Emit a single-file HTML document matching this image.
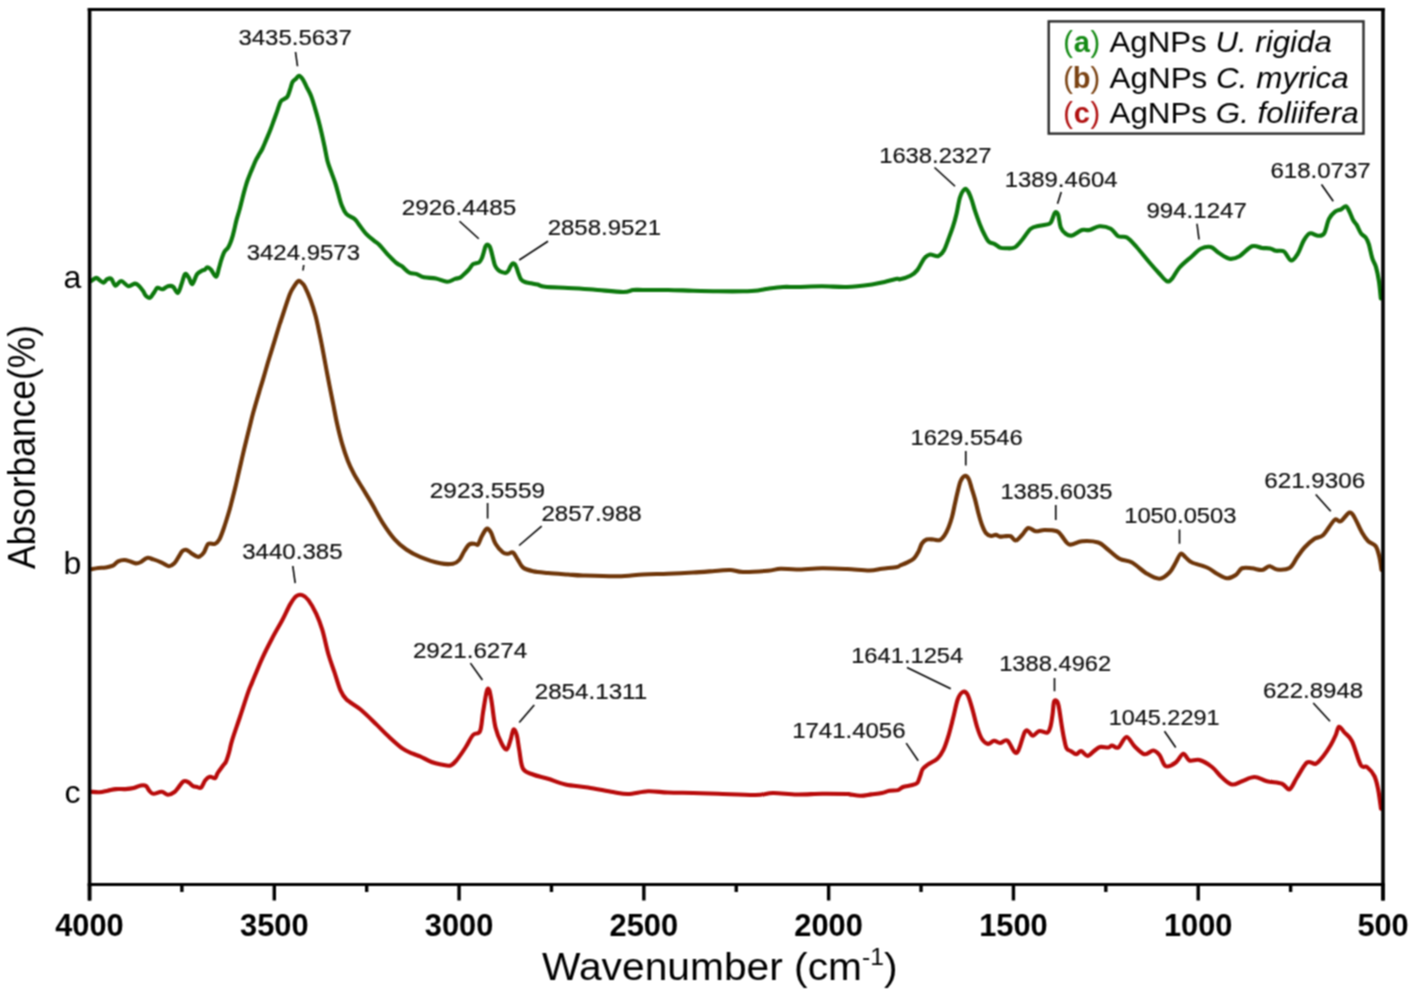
<!DOCTYPE html><html><head><meta charset="utf-8"><style>html,body{margin:0;padding:0;background:#fff;}svg{display:block;}text{font-family:"Liberation Sans",Arial,sans-serif;}</style></head><body>
<svg width="1416" height="996" viewBox="0 0 1416 996">
<defs><filter id="soft" filterUnits="userSpaceOnUse" x="0" y="0" width="1416" height="996" color-interpolation-filters="sRGB"><feConvolveMatrix order="3" kernelMatrix="1 2 1 2 4 2 1 2 1" edgeMode="duplicate"/></filter></defs>
<g filter="url(#soft)">
<rect width="1416" height="996" fill="#fff"/>
<g fill="none" stroke-width="4.1" stroke-linejoin="round" stroke-linecap="round">
<path stroke="#0c780c" d="M91.10,281.00 C91.97,280.48 94.92,278.07 96.30,277.90 C97.68,277.73 98.20,279.22 99.40,280.00 C100.60,280.78 102.20,282.73 103.50,282.60 C104.80,282.47 105.90,279.82 107.20,279.20 C108.50,278.58 109.92,277.82 111.30,278.90 C112.68,279.98 113.85,285.35 115.50,285.70 C117.15,286.05 119.05,280.92 121.20,281.00 C123.35,281.08 126.15,285.77 128.40,286.20 C130.65,286.63 132.97,283.68 134.70,283.60 C136.43,283.52 137.42,284.48 138.80,285.70 C140.18,286.92 141.78,289.17 143.00,290.90 C144.22,292.63 144.90,294.98 146.10,296.10 C147.30,297.22 148.82,298.30 150.20,297.60 C151.58,296.90 153.18,293.53 154.40,291.90 C155.62,290.27 156.12,288.23 157.50,287.80 C158.88,287.37 160.97,289.57 162.70,289.30 C164.43,289.03 166.17,286.63 167.90,286.20 C169.63,285.77 171.45,285.58 173.10,286.70 C174.75,287.82 176.42,293.25 177.80,292.90 C179.18,292.55 180.20,287.70 181.40,284.60 C182.60,281.50 183.78,275.50 185.00,274.30 C186.22,273.10 187.48,275.77 188.70,277.40 C189.92,279.03 190.92,284.62 192.30,284.10 C193.68,283.58 195.35,276.55 197.00,274.30 C198.65,272.05 200.87,271.38 202.20,270.60 C203.53,269.82 204.13,270.17 205.00,269.60 C205.87,269.03 206.40,267.20 207.40,267.20 C208.40,267.20 209.55,268.00 211.00,269.60 C212.45,271.20 214.78,277.00 216.10,276.80 C217.42,276.60 218.03,271.22 218.90,268.40 C219.77,265.58 220.40,262.62 221.30,259.90 C222.20,257.18 223.20,254.10 224.30,252.10 C225.40,250.10 226.90,249.40 227.90,247.90 C228.90,246.40 229.50,245.12 230.30,243.10 C231.10,241.08 232.03,238.07 232.70,235.80 C233.37,233.53 233.65,232.20 234.30,229.50 C234.95,226.80 235.68,223.07 236.60,219.60 C237.52,216.13 238.82,212.32 239.80,208.70 C240.78,205.08 241.60,201.37 242.50,197.90 C243.40,194.43 244.38,190.77 245.20,187.90 C246.02,185.03 246.50,183.27 247.40,180.70 C248.30,178.13 249.68,174.77 250.60,172.50 C251.52,170.23 252.00,169.20 252.90,167.10 C253.80,165.00 254.88,162.15 256.00,159.90 C257.12,157.65 258.52,155.50 259.60,153.60 C260.68,151.70 261.42,150.75 262.50,148.50 C263.58,146.25 264.78,143.22 266.10,140.10 C267.42,136.98 269.12,133.07 270.40,129.80 C271.68,126.53 272.67,123.62 273.80,120.50 C274.93,117.38 276.07,114.23 277.20,111.10 C278.33,107.97 279.47,103.70 280.60,101.70 C281.73,99.70 282.87,99.95 284.00,99.10 C285.13,98.25 286.40,98.17 287.40,96.60 C288.40,95.03 289.15,92.12 290.00,89.70 C290.85,87.28 291.50,83.93 292.50,82.10 C293.50,80.27 294.93,79.77 296.00,78.70 C297.07,77.63 297.77,75.60 298.90,75.70 C300.03,75.80 301.50,77.40 302.80,79.30 C304.10,81.20 305.28,84.25 306.70,87.10 C308.12,89.95 309.88,92.77 311.30,96.40 C312.72,100.03 314.03,105.00 315.20,108.90 C316.37,112.80 317.27,115.92 318.30,119.80 C319.33,123.68 320.37,127.80 321.40,132.20 C322.43,136.60 323.45,141.27 324.50,146.20 C325.55,151.13 326.53,157.40 327.70,161.80 C328.87,166.20 330.22,168.98 331.50,172.60 C332.78,176.22 334.23,179.87 335.40,183.50 C336.57,187.13 337.45,190.77 338.50,194.40 C339.55,198.03 340.40,202.05 341.70,205.30 C343.00,208.55 344.08,211.57 346.30,213.90 C348.52,216.23 352.93,217.58 355.00,219.30 C357.07,221.02 356.80,221.72 358.70,224.20 C360.60,226.68 363.82,231.43 366.40,234.20 C368.98,236.97 371.98,238.97 374.20,240.80 C376.42,242.63 377.50,242.98 379.70,245.20 C381.90,247.42 384.63,251.15 387.40,254.10 C390.17,257.05 393.90,260.88 396.30,262.90 C398.70,264.92 399.60,264.55 401.80,266.20 C404.00,267.85 407.12,271.52 409.50,272.80 C411.88,274.08 413.70,273.15 416.10,273.90 C418.50,274.65 420.58,276.55 423.90,277.30 C427.22,278.05 432.13,277.67 436.00,278.40 C439.87,279.13 443.93,281.62 447.10,281.70 C450.27,281.78 452.83,279.58 455.00,278.90 C457.17,278.22 458.52,278.45 460.10,277.60 C461.68,276.75 463.02,275.18 464.50,273.80 C465.98,272.42 467.62,270.90 469.00,269.30 C470.38,267.70 471.63,265.20 472.80,264.20 C473.97,263.20 474.93,263.62 476.00,263.30 C477.07,262.98 478.25,263.10 479.20,262.30 C480.15,261.50 480.97,260.08 481.70,258.50 C482.43,256.92 482.97,254.82 483.60,252.80 C484.23,250.78 484.87,247.78 485.50,246.40 C486.13,245.02 486.72,244.50 487.40,244.50 C488.08,244.50 488.97,245.33 489.60,246.40 C490.23,247.47 490.62,248.88 491.20,250.90 C491.78,252.92 492.47,256.07 493.10,258.50 C493.73,260.93 494.15,263.58 495.00,265.50 C495.85,267.42 497.03,268.88 498.20,270.00 C499.37,271.12 500.72,271.73 502.00,272.20 C503.28,272.67 504.83,273.07 505.90,272.80 C506.97,272.53 507.67,271.60 508.40,270.60 C509.13,269.60 509.62,267.97 510.30,266.80 C510.98,265.63 511.75,264.03 512.50,263.60 C513.25,263.17 514.10,263.45 514.80,264.20 C515.50,264.95 516.07,266.50 516.70,268.10 C517.33,269.70 517.87,271.90 518.60,273.80 C519.33,275.70 520.05,278.13 521.10,279.50 C522.15,280.87 523.20,281.37 524.90,282.00 C526.60,282.63 529.18,282.87 531.30,283.30 C533.42,283.73 535.32,284.02 537.60,284.60 C539.88,285.18 539.93,286.23 545.00,286.80 C550.07,287.37 560.00,287.55 568.00,288.00 C576.00,288.45 583.83,288.83 593.00,289.50 C602.17,290.17 616.33,291.92 623.00,292.00 C629.67,292.08 629.67,290.33 633.00,290.00 C636.33,289.67 637.17,290.00 643.00,290.00 C648.83,290.00 659.67,289.88 668.00,290.00 C676.33,290.12 684.67,290.54 693.00,290.75 C701.33,290.96 709.67,291.17 718.00,291.25 C726.33,291.33 736.33,291.38 743.00,291.25 C749.67,291.12 753.83,290.92 758.00,290.50 C762.17,290.08 763.83,289.33 768.00,288.75 C772.17,288.17 778.17,287.29 783.00,287.00 C787.83,286.71 790.50,287.12 797.00,287.00 C803.50,286.88 813.67,286.25 822.00,286.25 C830.33,286.25 838.67,287.29 847.00,287.00 C855.33,286.71 865.75,285.33 872.00,284.50 C878.25,283.67 880.33,282.96 884.50,282.00 C888.67,281.04 894.42,279.20 897.00,278.75 C899.58,278.30 897.77,279.79 900.00,279.30 C902.23,278.81 907.52,277.33 910.40,275.80 C913.28,274.27 915.00,272.98 917.30,270.10 C919.60,267.22 922.08,261.10 924.20,258.50 C926.32,255.90 927.68,254.88 930.00,254.50 C932.32,254.12 935.78,256.88 938.10,256.20 C940.42,255.52 942.17,253.28 943.90,250.40 C945.63,247.52 946.97,242.93 948.50,238.90 C950.03,234.87 951.75,230.43 953.10,226.20 C954.45,221.97 955.45,218.32 956.60,213.50 C957.75,208.68 958.65,201.35 960.00,197.30 C961.35,193.25 963.35,190.17 964.70,189.20 C966.05,188.23 966.95,189.77 968.10,191.50 C969.25,193.23 970.43,196.32 971.60,199.60 C972.77,202.88 973.75,207.15 975.10,211.20 C976.45,215.25 978.17,220.05 979.70,223.90 C981.23,227.75 982.77,231.32 984.30,234.30 C985.83,237.28 987.17,240.17 988.90,241.80 C990.63,243.43 992.85,243.13 994.70,244.10 C996.55,245.07 998.16,246.91 1000.00,247.60 C1001.84,248.29 1003.33,248.27 1005.75,248.25 C1008.17,248.23 1011.79,248.88 1014.50,247.50 C1017.21,246.12 1019.29,243.12 1022.00,240.00 C1024.71,236.88 1027.83,231.12 1030.75,228.75 C1033.67,226.38 1036.38,226.58 1039.50,225.75 C1042.62,224.92 1047.42,224.71 1049.50,223.75 C1051.58,222.79 1051.08,221.88 1052.00,220.00 C1052.92,218.12 1053.96,213.33 1055.00,212.50 C1056.04,211.67 1057.29,212.50 1058.25,215.00 C1059.21,217.50 1059.50,224.38 1060.75,227.50 C1062.00,230.62 1063.88,232.42 1065.75,233.75 C1067.62,235.08 1069.29,236.12 1072.00,235.50 C1074.71,234.88 1079.08,230.92 1082.00,230.00 C1084.92,229.08 1086.58,230.62 1089.50,230.00 C1092.42,229.38 1095.96,226.46 1099.50,226.25 C1103.04,226.04 1107.62,227.08 1110.75,228.75 C1113.88,230.42 1115.54,234.79 1118.25,236.25 C1120.96,237.71 1123.88,235.62 1127.00,237.50 C1130.12,239.38 1133.25,243.33 1137.00,247.50 C1140.75,251.67 1145.75,258.12 1149.50,262.50 C1153.25,266.88 1156.58,270.62 1159.50,273.75 C1162.42,276.88 1164.92,280.42 1167.00,281.25 C1169.08,282.08 1169.92,281.04 1172.00,278.75 C1174.08,276.46 1176.17,271.25 1179.50,267.50 C1182.83,263.75 1188.46,259.38 1192.00,256.25 C1195.54,253.12 1197.62,250.29 1200.75,248.75 C1203.88,247.21 1207.83,246.38 1210.75,247.00 C1213.67,247.62 1215.12,250.54 1218.25,252.50 C1221.38,254.46 1225.96,258.12 1229.50,258.75 C1233.04,259.38 1235.75,258.33 1239.50,256.25 C1243.25,254.17 1248.25,247.62 1252.00,246.25 C1255.75,244.88 1259.00,247.64 1262.00,248.00 C1265.00,248.36 1267.67,247.93 1270.00,248.40 C1272.33,248.87 1273.68,250.30 1276.00,250.80 C1278.32,251.30 1281.38,249.78 1283.90,251.40 C1286.42,253.02 1288.80,260.08 1291.10,260.50 C1293.40,260.92 1295.60,257.22 1297.70,253.90 C1299.80,250.58 1301.68,244.02 1303.70,240.60 C1305.72,237.18 1307.38,234.20 1309.80,233.40 C1312.22,232.60 1315.80,235.80 1318.20,235.80 C1320.60,235.80 1322.40,236.22 1324.20,233.40 C1326.00,230.58 1327.18,222.52 1329.00,218.90 C1330.82,215.28 1333.08,213.30 1335.10,211.70 C1337.12,210.10 1339.30,210.20 1341.10,209.30 C1342.90,208.40 1344.50,205.90 1345.90,206.30 C1347.30,206.70 1348.30,209.40 1349.50,211.70 C1350.70,214.00 1351.90,217.90 1353.10,220.10 C1354.30,222.30 1355.38,222.68 1356.70,224.90 C1358.02,227.12 1359.48,231.28 1361.00,233.40 C1362.52,235.52 1364.50,235.80 1365.80,237.60 C1367.10,239.40 1367.70,240.68 1368.80,244.20 C1369.90,247.72 1371.20,254.88 1372.40,258.70 C1373.60,262.52 1374.90,263.28 1376.00,267.10 C1377.10,270.92 1378.20,276.38 1379.00,281.60 C1379.80,286.82 1380.50,295.60 1380.80,298.40"/>
<path stroke="#6e3508" d="M91.10,569.30 C92.30,569.08 95.88,568.30 98.30,568.00 C100.72,567.70 103.17,567.88 105.60,567.50 C108.03,567.12 110.82,566.73 112.90,565.70 C114.98,564.67 116.20,562.25 118.10,561.30 C120.00,560.35 122.23,559.97 124.30,560.00 C126.37,560.03 128.60,560.93 130.50,561.50 C132.40,562.07 133.97,563.32 135.70,563.40 C137.43,563.48 139.00,562.92 140.90,562.00 C142.80,561.08 145.02,558.33 147.10,557.90 C149.18,557.47 150.97,558.62 153.40,559.40 C155.83,560.18 159.12,561.47 161.70,562.60 C164.28,563.73 166.83,566.03 168.90,566.20 C170.97,566.37 172.53,565.07 174.10,563.60 C175.67,562.13 176.92,559.48 178.30,557.40 C179.68,555.32 181.02,552.35 182.40,551.10 C183.78,549.85 185.12,549.55 186.60,549.90 C188.08,550.25 189.67,552.13 191.30,553.20 C192.93,554.27 195.05,555.73 196.40,556.30 C197.75,556.87 198.17,557.20 199.40,556.60 C200.63,556.00 202.33,554.82 203.80,552.70 C205.27,550.58 206.35,545.37 208.20,543.90 C210.05,542.43 213.05,544.63 214.90,543.90 C216.75,543.17 217.83,542.07 219.30,539.50 C220.77,536.93 222.00,533.42 223.70,528.50 C225.40,523.58 228.12,514.68 229.50,510.00 C230.88,505.32 231.07,504.02 232.00,500.40 C232.93,496.78 234.08,492.48 235.10,488.30 C236.12,484.12 237.10,479.65 238.10,475.30 C239.10,470.95 240.10,466.55 241.10,462.20 C242.10,457.85 243.10,453.38 244.10,449.20 C245.10,445.02 246.10,441.12 247.10,437.10 C248.10,433.08 249.10,429.12 250.10,425.10 C251.10,421.08 251.60,418.47 253.10,413.00 C254.60,407.53 257.43,397.93 259.10,392.30 C260.77,386.67 261.77,383.72 263.10,379.20 C264.43,374.68 265.77,369.72 267.10,365.20 C268.43,360.68 269.77,356.45 271.10,352.10 C272.43,347.75 273.77,343.45 275.10,339.10 C276.43,334.75 278.10,329.18 279.10,326.00 C280.10,322.82 279.33,325.23 281.10,320.00 C282.87,314.77 287.55,300.18 289.70,294.60 C291.85,289.02 292.53,288.80 294.00,286.50 C295.47,284.20 297.17,281.38 298.50,280.80 C299.83,280.22 300.95,282.02 302.00,283.00 C303.05,283.98 303.35,283.80 304.80,286.70 C306.25,289.60 308.90,295.50 310.70,300.40 C312.50,305.30 314.13,310.55 315.60,316.10 C317.07,321.65 318.20,327.50 319.50,333.70 C320.80,339.90 322.27,347.42 323.40,353.30 C324.53,359.18 325.32,363.78 326.30,369.00 C327.28,374.22 328.15,378.73 329.30,384.60 C330.45,390.47 331.90,397.67 333.20,404.20 C334.50,410.73 335.63,417.27 337.10,423.80 C338.57,430.33 340.20,437.20 342.00,443.40 C343.80,449.60 345.90,455.90 347.90,461.00 C349.90,466.10 351.55,469.45 354.00,474.00 C356.45,478.55 359.70,483.48 362.60,488.30 C365.50,493.12 368.00,497.07 371.40,502.90 C374.80,508.73 379.12,517.23 383.00,523.30 C386.88,529.37 390.82,534.93 394.70,539.30 C398.58,543.67 402.08,546.58 406.30,549.50 C410.52,552.42 414.33,554.50 420.00,556.80 C425.67,559.10 434.80,562.14 440.30,563.30 C445.80,564.46 449.84,564.30 453.00,563.75 C456.16,563.20 457.38,562.08 459.25,560.00 C461.12,557.92 462.58,553.83 464.25,551.25 C465.92,548.67 467.58,545.75 469.25,544.50 C470.92,543.25 472.79,543.75 474.25,543.75 C475.71,543.75 476.75,545.75 478.00,544.50 C479.25,543.25 480.29,538.88 481.75,536.25 C483.21,533.62 485.21,529.38 486.75,528.75 C488.29,528.12 489.54,530.00 491.00,532.50 C492.46,535.00 493.50,540.42 495.50,543.75 C497.50,547.08 500.92,550.83 503.00,552.50 C505.08,554.17 506.33,553.75 508.00,553.75 C509.67,553.75 511.33,551.46 513.00,552.50 C514.67,553.54 516.33,557.50 518.00,560.00 C519.67,562.50 520.50,565.62 523.00,567.50 C525.50,569.38 528.83,570.33 533.00,571.25 C537.17,572.17 542.17,572.46 548.00,573.00 C553.83,573.54 562.17,574.08 568.00,574.50 C573.83,574.92 574.67,575.21 583.00,575.50 C591.33,575.79 608.00,576.42 618.00,576.25 C628.00,576.08 634.67,574.92 643.00,574.50 C651.33,574.08 659.67,574.08 668.00,573.75 C676.33,573.42 684.67,573.00 693.00,572.50 C701.33,572.00 711.75,571.17 718.00,570.75 C724.25,570.33 726.33,569.79 730.50,570.00 C734.67,570.21 736.75,571.88 743.00,572.00 C749.25,572.12 761.75,571.29 768.00,570.75 C774.25,570.21 775.67,568.96 780.50,568.75 C785.33,568.54 790.08,569.58 797.00,569.50 C803.92,569.42 813.67,568.33 822.00,568.25 C830.33,568.17 839.08,568.62 847.00,569.00 C854.92,569.38 863.67,570.54 869.50,570.50 C875.33,570.46 877.42,569.33 882.00,568.75 C886.58,568.17 894.00,567.54 897.00,567.00 C900.00,566.46 898.35,566.23 900.00,565.50 C901.65,564.77 904.58,563.77 906.90,562.60 C909.22,561.43 911.97,560.33 913.90,558.50 C915.83,556.67 917.17,554.10 918.50,551.60 C919.83,549.10 920.55,545.52 921.90,543.50 C923.25,541.48 924.67,540.17 926.60,539.50 C928.53,538.83 931.30,539.40 933.50,539.50 C935.70,539.60 937.97,540.78 939.80,540.10 C941.63,539.42 943.05,537.52 944.50,535.40 C945.95,533.28 947.25,530.47 948.50,527.40 C949.75,524.33 950.95,520.85 952.00,517.00 C953.05,513.15 953.85,508.53 954.80,504.30 C955.75,500.07 956.73,495.45 957.70,491.60 C958.67,487.75 959.43,483.80 960.60,481.20 C961.77,478.60 963.35,476.38 964.70,476.00 C966.05,475.62 967.55,476.88 968.70,478.90 C969.85,480.92 970.53,484.65 971.60,488.10 C972.67,491.55 973.95,495.37 975.10,499.60 C976.25,503.83 977.35,509.27 978.50,513.50 C979.65,517.73 980.75,521.73 982.00,525.00 C983.25,528.27 984.47,531.27 986.00,533.10 C987.53,534.93 989.57,535.70 991.20,536.00 C992.83,536.30 994.33,534.80 995.80,534.90 C997.27,535.00 998.55,536.38 1000.00,536.60 C1001.45,536.83 1002.71,536.31 1004.50,536.25 C1006.29,536.19 1008.88,535.54 1010.75,536.25 C1012.62,536.96 1013.88,540.71 1015.75,540.50 C1017.62,540.29 1019.92,537.08 1022.00,535.00 C1024.08,532.92 1025.96,528.62 1028.25,528.00 C1030.54,527.38 1033.04,530.92 1035.75,531.25 C1038.46,531.58 1040.96,530.00 1044.50,530.00 C1048.04,530.00 1054.08,530.21 1057.00,531.25 C1059.92,532.29 1059.92,534.04 1062.00,536.25 C1064.08,538.46 1066.17,543.67 1069.50,544.50 C1072.83,545.33 1077.21,541.58 1082.00,541.25 C1086.79,540.92 1094.08,541.25 1098.25,542.50 C1102.42,543.75 1103.46,546.04 1107.00,548.75 C1110.54,551.46 1115.33,556.46 1119.50,558.75 C1123.67,561.04 1127.42,560.00 1132.00,562.50 C1136.58,565.00 1142.42,571.04 1147.00,573.75 C1151.58,576.46 1155.75,578.96 1159.50,578.75 C1163.25,578.54 1166.79,575.21 1169.50,572.50 C1172.21,569.79 1173.88,565.62 1175.75,562.50 C1177.62,559.38 1179.08,554.58 1180.75,553.75 C1182.42,552.92 1183.88,556.04 1185.75,557.50 C1187.62,558.96 1188.46,560.83 1192.00,562.50 C1195.54,564.17 1202.83,565.62 1207.00,567.50 C1211.17,569.38 1213.67,571.96 1217.00,573.75 C1220.33,575.54 1223.88,578.04 1227.00,578.25 C1230.12,578.46 1233.25,576.67 1235.75,575.00 C1238.25,573.33 1239.29,569.38 1242.00,568.25 C1244.71,567.12 1248.67,567.96 1252.00,568.25 C1255.33,568.54 1259.08,570.33 1262.00,570.00 C1264.92,569.67 1267.00,566.33 1269.50,566.25 C1272.00,566.17 1273.67,569.21 1277.00,569.50 C1280.33,569.79 1286.17,570.00 1289.50,568.00 C1292.83,566.00 1294.50,560.92 1297.00,557.50 C1299.50,554.08 1301.58,550.62 1304.50,547.50 C1307.42,544.38 1311.38,540.83 1314.50,538.75 C1317.62,536.67 1319.92,538.12 1323.25,535.00 C1326.58,531.88 1331.58,522.29 1334.50,520.00 C1337.42,517.71 1338.25,522.50 1340.75,521.25 C1343.25,520.00 1347.21,513.12 1349.50,512.50 C1351.79,511.88 1352.42,514.17 1354.50,517.50 C1356.58,520.83 1359.71,528.54 1362.00,532.50 C1364.29,536.46 1365.96,538.96 1368.25,541.25 C1370.54,543.54 1373.88,543.54 1375.75,546.25 C1377.62,548.96 1378.54,553.54 1379.50,557.50 C1380.46,561.46 1381.17,567.92 1381.50,570.00"/>
<path stroke="#b80a0a" d="M91.10,791.70 C92.48,791.78 96.63,792.37 99.40,792.20 C102.17,792.03 104.93,791.22 107.70,790.70 C110.47,790.18 113.07,789.37 116.00,789.10 C118.93,788.83 122.37,789.27 125.30,789.10 C128.23,788.93 131.00,788.70 133.60,788.10 C136.20,787.50 138.82,785.85 140.90,785.50 C142.98,785.15 144.72,785.13 146.10,786.00 C147.48,786.87 147.98,789.40 149.20,790.70 C150.42,792.00 151.32,793.63 153.40,793.80 C155.48,793.97 159.28,791.53 161.70,791.70 C164.12,791.87 165.83,794.72 167.90,794.80 C169.97,794.88 172.37,793.40 174.10,792.20 C175.83,791.00 176.73,789.42 178.30,787.60 C179.87,785.78 181.77,782.17 183.50,781.30 C185.23,780.43 187.15,781.62 188.70,782.40 C190.25,783.18 191.42,785.23 192.80,786.00 C194.18,786.77 195.62,786.73 197.00,787.00 C198.38,787.27 199.72,788.72 201.10,787.60 C202.48,786.48 203.83,782.12 205.30,780.30 C206.77,778.48 208.27,777.05 209.90,776.70 C211.53,776.35 213.80,778.82 215.10,778.20 C216.40,777.58 216.40,775.07 217.70,773.00 C219.00,770.93 221.52,767.70 222.90,765.80 C224.28,763.90 224.97,763.85 226.00,761.60 C227.03,759.35 228.10,755.80 229.10,752.30 C230.10,748.80 230.17,746.57 232.00,740.60 C233.83,734.63 237.42,724.53 240.10,716.50 C242.78,708.47 246.10,698.08 248.10,692.40 C250.10,686.72 249.75,688.08 252.10,682.40 C254.45,676.72 258.85,665.67 262.20,658.30 C265.55,650.93 268.87,644.55 272.20,638.20 C275.53,631.85 279.18,625.88 282.20,620.20 C285.22,614.52 287.95,608.12 290.30,604.10 C292.65,600.08 294.30,597.60 296.30,596.10 C298.30,594.60 300.28,594.43 302.30,595.10 C304.32,595.77 306.05,596.93 308.40,600.10 C310.75,603.27 314.07,609.08 316.40,614.10 C318.73,619.12 320.40,623.50 322.40,630.20 C324.40,636.90 326.38,647.27 328.40,654.30 C330.42,661.33 332.48,666.38 334.50,672.40 C336.52,678.42 338.50,685.88 340.50,690.40 C342.50,694.92 343.15,696.32 346.50,699.50 C349.85,702.68 355.58,705.32 360.60,709.50 C365.62,713.68 371.92,720.08 376.60,724.60 C381.28,729.12 384.35,732.58 388.70,736.60 C393.05,740.62 398.68,745.85 402.70,748.70 C406.72,751.55 409.92,752.43 412.80,753.70 C415.68,754.97 416.88,754.92 420.00,756.30 C423.12,757.68 427.92,760.63 431.50,762.00 C435.08,763.37 438.33,763.92 441.50,764.50 C444.67,765.08 447.96,766.25 450.50,765.50 C453.04,764.75 454.25,763.00 456.75,760.00 C459.25,757.00 462.79,751.67 465.50,747.50 C468.21,743.33 470.58,737.71 473.00,735.00 C475.42,732.29 478.33,735.00 480.00,731.25 C481.67,727.50 481.88,719.17 483.00,712.50 C484.12,705.83 485.71,695.00 486.75,691.25 C487.79,687.50 488.42,688.12 489.25,690.00 C490.08,691.88 490.71,696.25 491.75,702.50 C492.79,708.75 493.83,720.62 495.50,727.50 C497.17,734.38 499.88,740.08 501.75,743.75 C503.62,747.42 505.29,750.12 506.75,749.50 C508.21,748.88 509.38,743.33 510.50,740.00 C511.62,736.67 512.46,730.33 513.50,729.50 C514.54,728.67 515.79,731.58 516.75,735.00 C517.71,738.42 518.21,744.38 519.25,750.00 C520.29,755.62 520.71,764.67 523.00,768.75 C525.29,772.83 528.83,772.83 533.00,774.50 C537.17,776.17 542.58,777.08 548.00,778.75 C553.42,780.42 558.83,783.04 565.50,784.50 C572.17,785.96 580.08,786.25 588.00,787.50 C595.92,788.75 606.33,790.92 613.00,792.00 C619.67,793.08 622.17,794.12 628.00,794.00 C633.83,793.88 641.33,791.50 648.00,791.25 C654.67,791.00 660.50,792.21 668.00,792.50 C675.50,792.79 684.67,792.79 693.00,793.00 C701.33,793.21 707.58,793.42 718.00,793.75 C728.42,794.08 746.33,795.12 755.50,795.00 C764.67,794.88 766.08,793.08 773.00,793.00 C779.92,792.92 788.83,794.38 797.00,794.50 C805.17,794.62 813.67,793.83 822.00,793.75 C830.33,793.67 842.33,793.89 847.00,794.00 C851.67,794.11 847.73,794.10 850.00,794.40 C852.27,794.70 857.07,795.80 860.60,795.80 C864.13,795.80 867.67,794.87 871.20,794.40 C874.73,793.93 878.75,793.60 881.80,793.00 C884.85,792.40 886.80,791.28 889.50,790.80 C892.20,790.32 895.75,790.73 898.00,790.10 C900.25,789.47 900.77,787.82 903.00,787.00 C905.23,786.18 909.05,785.85 911.40,785.20 C913.75,784.55 915.68,784.52 917.10,783.10 C918.52,781.68 918.97,779.05 919.90,776.70 C920.83,774.35 921.40,771.00 922.70,769.00 C924.00,767.00 925.22,766.47 927.70,764.70 C930.18,762.93 934.98,760.87 937.60,758.40 C940.22,755.93 941.63,753.53 943.40,749.90 C945.17,746.27 946.60,741.82 948.20,736.60 C949.80,731.38 951.40,724.82 953.00,718.60 C954.60,712.38 956.18,703.73 957.80,699.30 C959.42,694.87 961.08,692.80 962.70,692.00 C964.32,691.20 965.90,691.68 967.50,694.50 C969.10,697.32 970.70,703.48 972.30,708.90 C973.90,714.32 975.50,721.98 977.10,727.00 C978.70,732.02 980.08,736.18 981.90,739.00 C983.72,741.82 985.98,743.60 988.00,743.90 C990.02,744.20 992.00,740.95 994.00,740.80 C996.00,740.65 997.80,743.03 1000.00,743.00 C1002.20,742.97 1004.78,739.12 1007.20,740.60 C1009.62,742.08 1012.62,750.30 1014.50,751.90 C1016.38,753.50 1016.77,753.55 1018.50,750.20 C1020.23,746.85 1023.17,734.87 1024.90,731.80 C1026.63,728.73 1027.57,731.13 1028.90,731.80 C1030.23,732.47 1031.15,735.93 1032.90,735.80 C1034.65,735.67 1036.98,731.53 1039.40,731.00 C1041.82,730.47 1045.53,733.42 1047.40,732.60 C1049.27,731.78 1049.73,729.18 1050.60,726.10 C1051.47,723.02 1052.07,717.97 1052.60,714.10 C1053.13,710.23 1053.33,705.18 1053.80,702.90 C1054.27,700.62 1054.73,700.40 1055.40,700.40 C1056.07,700.40 1057.13,701.28 1057.80,702.90 C1058.47,704.52 1058.73,706.23 1059.40,710.10 C1060.07,713.97 1060.98,721.15 1061.80,726.10 C1062.62,731.05 1063.48,736.05 1064.30,739.80 C1065.12,743.55 1065.63,746.73 1066.70,748.60 C1067.77,750.47 1069.10,750.05 1070.70,751.00 C1072.30,751.95 1074.57,754.30 1076.30,754.30 C1078.03,754.30 1079.22,750.73 1081.10,751.00 C1082.98,751.27 1085.45,755.90 1087.60,755.90 C1089.75,755.90 1091.93,752.48 1094.00,751.00 C1096.07,749.52 1097.62,747.58 1100.00,747.00 C1102.38,746.42 1106.25,747.75 1108.25,747.50 C1110.25,747.25 1110.33,745.50 1112.00,745.50 C1113.67,745.50 1115.83,748.92 1118.25,747.50 C1120.67,746.08 1123.79,737.21 1126.50,737.00 C1129.21,736.79 1131.50,743.38 1134.50,746.25 C1137.50,749.12 1141.38,753.54 1144.50,754.25 C1147.62,754.96 1150.75,750.38 1153.25,750.50 C1155.75,750.62 1157.42,752.38 1159.50,755.00 C1161.58,757.62 1163.04,765.00 1165.75,766.25 C1168.46,767.50 1172.83,764.58 1175.75,762.50 C1178.67,760.42 1180.96,754.08 1183.25,753.75 C1185.54,753.42 1186.79,759.46 1189.50,760.50 C1192.21,761.54 1195.75,758.92 1199.50,760.00 C1203.25,761.08 1208.25,764.08 1212.00,767.00 C1215.75,769.92 1218.67,774.58 1222.00,777.50 C1225.33,780.42 1228.67,783.88 1232.00,784.50 C1235.33,785.12 1238.25,782.50 1242.00,781.25 C1245.75,780.00 1250.33,777.00 1254.50,777.00 C1258.67,777.00 1262.42,780.12 1267.00,781.25 C1271.58,782.38 1278.25,782.42 1282.00,783.75 C1285.75,785.08 1287.00,790.29 1289.50,789.25 C1292.00,788.21 1294.08,781.96 1297.00,777.50 C1299.92,773.04 1303.88,764.79 1307.00,762.50 C1310.12,760.21 1313.04,764.79 1315.75,763.75 C1318.46,762.71 1320.75,759.38 1323.25,756.25 C1325.75,753.12 1328.67,748.54 1330.75,745.00 C1332.83,741.46 1334.38,738.04 1335.75,735.00 C1337.12,731.96 1337.54,727.17 1339.00,726.75 C1340.46,726.33 1342.33,730.08 1344.50,732.50 C1346.67,734.92 1349.29,735.83 1352.00,741.25 C1354.71,746.67 1358.25,760.71 1360.75,765.00 C1363.25,769.29 1364.71,765.12 1367.00,767.00 C1369.29,768.88 1372.62,772.42 1374.50,776.25 C1376.38,780.08 1377.17,784.58 1378.25,790.00 C1379.33,795.42 1380.54,805.62 1381.00,808.75"/>
</g>
<g stroke="#000" stroke-width="1.6" fill="none">
<line x1="295.5" y1="52" x2="297.5" y2="66.25"/>
<line x1="459.5" y1="221.25" x2="478.75" y2="238.75"/>
<line x1="548" y1="241.25" x2="519.25" y2="260"/>
<line x1="934.5" y1="167.5" x2="955" y2="186.25"/>
<line x1="1061.25" y1="192" x2="1057.5" y2="203.75"/>
<line x1="1197" y1="223.75" x2="1199" y2="239.5"/>
<line x1="1321.5" y1="184.5" x2="1333.25" y2="201.25"/>
<line x1="303.75" y1="265" x2="303" y2="270.5"/>
<line x1="487.6" y1="503" x2="487.6" y2="518.6"/>
<line x1="541.7" y1="526.1" x2="519.1" y2="545.5"/>
<line x1="965.75" y1="451" x2="965.75" y2="465.5"/>
<line x1="1055.75" y1="505" x2="1055.75" y2="520"/>
<line x1="1179.5" y1="529.5" x2="1179.5" y2="543.75"/>
<line x1="1315.75" y1="494.5" x2="1330.75" y2="511.25"/>
<line x1="292.8" y1="566" x2="295.2" y2="583.2"/>
<line x1="470.4" y1="663.1" x2="482.4" y2="680"/>
<line x1="534.25" y1="705" x2="519.25" y2="722.5"/>
<line x1="906.2" y1="743.1" x2="918.2" y2="760.7"/>
<line x1="907" y1="667.5" x2="950.75" y2="688.75"/>
<line x1="1054.5" y1="678" x2="1054.5" y2="691.25"/>
<line x1="1164.5" y1="731.25" x2="1175.75" y2="747.5"/>
<line x1="1313.25" y1="703" x2="1330" y2="721.25"/>
</g>
<g fill="#111" stroke="#111" stroke-width="0.2" font-size="22">
<text x="238.45" y="45.00" textLength="113.30" lengthAdjust="spacingAndGlyphs">3435.5637</text>
<text x="401.70" y="215.00" textLength="114.55" lengthAdjust="spacingAndGlyphs">2926.4485</text>
<text x="547.70" y="235.25" textLength="113.30" lengthAdjust="spacingAndGlyphs">2858.9521</text>
<text x="879.20" y="162.50" textLength="112.30" lengthAdjust="spacingAndGlyphs">1638.2327</text>
<text x="1004.70" y="187.00" textLength="112.80" lengthAdjust="spacingAndGlyphs">1389.4604</text>
<text x="1146.50" y="218.20" textLength="100.30" lengthAdjust="spacingAndGlyphs">994.1247</text>
<text x="1270.45" y="178.25" textLength="100.30" lengthAdjust="spacingAndGlyphs">618.0737</text>
<text x="246.70" y="259.50" textLength="113.30" lengthAdjust="spacingAndGlyphs">3424.9573</text>
<text x="429.80" y="497.60" textLength="115.20" lengthAdjust="spacingAndGlyphs">2923.5559</text>
<text x="541.45" y="520.50" textLength="100.30" lengthAdjust="spacingAndGlyphs">2857.988</text>
<text x="910.45" y="444.50" textLength="112.30" lengthAdjust="spacingAndGlyphs">1629.5546</text>
<text x="1000.45" y="499.00" textLength="112.05" lengthAdjust="spacingAndGlyphs">1385.6035</text>
<text x="1124.20" y="522.50" textLength="112.30" lengthAdjust="spacingAndGlyphs">1050.0503</text>
<text x="1264.20" y="488.25" textLength="101.05" lengthAdjust="spacingAndGlyphs">621.9306</text>
<text x="242.20" y="558.90" textLength="100.40" lengthAdjust="spacingAndGlyphs">3440.385</text>
<text x="412.90" y="657.60" textLength="114.30" lengthAdjust="spacingAndGlyphs">2921.6274</text>
<text x="534.70" y="699.00" textLength="112.55" lengthAdjust="spacingAndGlyphs">2854.1311</text>
<text x="792.20" y="737.90" textLength="113.30" lengthAdjust="spacingAndGlyphs">1741.4056</text>
<text x="851.20" y="662.50" textLength="112.05" lengthAdjust="spacingAndGlyphs">1641.1254</text>
<text x="999.20" y="670.75" textLength="112.05" lengthAdjust="spacingAndGlyphs">1388.4962</text>
<text x="1108.70" y="725.25" textLength="110.80" lengthAdjust="spacingAndGlyphs">1045.2291</text>
<text x="1262.95" y="697.50" textLength="100.30" lengthAdjust="spacingAndGlyphs">622.8948</text>
</g>
<g stroke="#000" fill="none">
<line x1="87.7" y1="9.4" x2="1384.8" y2="9.4" stroke-width="3"/>
<line x1="87.7" y1="884.4" x2="1384.8" y2="884.4" stroke-width="3"/>
<line x1="89.6" y1="8" x2="89.6" y2="900.5" stroke-width="3.6"/>
<line x1="1383" y1="8" x2="1383" y2="900.5" stroke-width="3.6"/>
<line x1="89.50" y1="884" x2="89.50" y2="900.5" stroke-width="3.4"/>
<line x1="181.89" y1="884" x2="181.89" y2="892" stroke-width="3.4"/>
<line x1="274.29" y1="884" x2="274.29" y2="900.5" stroke-width="3.4"/>
<line x1="366.68" y1="884" x2="366.68" y2="892" stroke-width="3.4"/>
<line x1="459.07" y1="884" x2="459.07" y2="900.5" stroke-width="3.4"/>
<line x1="551.46" y1="884" x2="551.46" y2="892" stroke-width="3.4"/>
<line x1="643.86" y1="884" x2="643.86" y2="900.5" stroke-width="3.4"/>
<line x1="736.25" y1="884" x2="736.25" y2="892" stroke-width="3.4"/>
<line x1="828.64" y1="884" x2="828.64" y2="900.5" stroke-width="3.4"/>
<line x1="921.04" y1="884" x2="921.04" y2="892" stroke-width="3.4"/>
<line x1="1013.43" y1="884" x2="1013.43" y2="900.5" stroke-width="3.4"/>
<line x1="1105.82" y1="884" x2="1105.82" y2="892" stroke-width="3.4"/>
<line x1="1198.21" y1="884" x2="1198.21" y2="900.5" stroke-width="3.4"/>
<line x1="1290.61" y1="884" x2="1290.61" y2="892" stroke-width="3.4"/>
<line x1="1383.00" y1="884" x2="1383.00" y2="900.5" stroke-width="3.4"/>
</g>
<g fill="#000" font-size="30.7" font-weight="bold" text-anchor="middle">
<text x="89.50" y="935.6" textLength="68.5" lengthAdjust="spacingAndGlyphs">4000</text>
<text x="274.29" y="935.6" textLength="68.5" lengthAdjust="spacingAndGlyphs">3500</text>
<text x="459.07" y="935.6" textLength="68.5" lengthAdjust="spacingAndGlyphs">3000</text>
<text x="643.86" y="935.6" textLength="68.5" lengthAdjust="spacingAndGlyphs">2500</text>
<text x="828.64" y="935.6" textLength="68.5" lengthAdjust="spacingAndGlyphs">2000</text>
<text x="1013.43" y="935.6" textLength="68.5" lengthAdjust="spacingAndGlyphs">1500</text>
<text x="1198.21" y="935.6" textLength="68.5" lengthAdjust="spacingAndGlyphs">1000</text>
<text x="1383.00" y="935.6" textLength="51.2" lengthAdjust="spacingAndGlyphs">500</text>
</g>
<text x="542" y="980.3" font-size="38" textLength="355.5" lengthAdjust="spacingAndGlyphs" fill="#000">Wavenumber (cm<tspan font-size="23" dy="-15">-1</tspan><tspan dy="15">)</tspan></text>
<text transform="translate(35.2,569) rotate(-90)" x="0" y="0" font-size="39" textLength="244" lengthAdjust="spacingAndGlyphs" fill="#000">Absorbance(%)</text>
<g font-size="32" fill="#000">
<text x="63.5" y="288">a</text>
<text x="63.5" y="574">b</text>
<text x="64.5" y="803">c</text>
</g>
<rect x="1048.7" y="21.4" width="314.8" height="112.2" fill="none" stroke="#2a2a2a" stroke-width="2.4"/>
<g font-size="29">
<text x="1063.2" y="51.9" fill="#148a14" textLength="37" lengthAdjust="spacing">(<tspan font-weight="bold">a</tspan>)</text>
<text x="1109.5" y="51.9" fill="#000" textLength="222.3" lengthAdjust="spacingAndGlyphs">AgNPs <tspan font-style="italic">U. rigida</tspan></text>
<text x="1063.2" y="87.5" fill="#7a4212" textLength="37" lengthAdjust="spacing">(<tspan font-weight="bold">b</tspan>)</text>
<text x="1109.5" y="87.5" fill="#000" textLength="239.3" lengthAdjust="spacingAndGlyphs">AgNPs <tspan font-style="italic">C. myrica</tspan></text>
<text x="1063.2" y="123.2" fill="#b01010" textLength="37" lengthAdjust="spacing">(<tspan font-weight="bold">c</tspan>)</text>
<text x="1109.5" y="123.2" fill="#000" textLength="249.1" lengthAdjust="spacingAndGlyphs">AgNPs <tspan font-style="italic">G. foliifera</tspan></text>
</g>
</g></svg></body></html>
